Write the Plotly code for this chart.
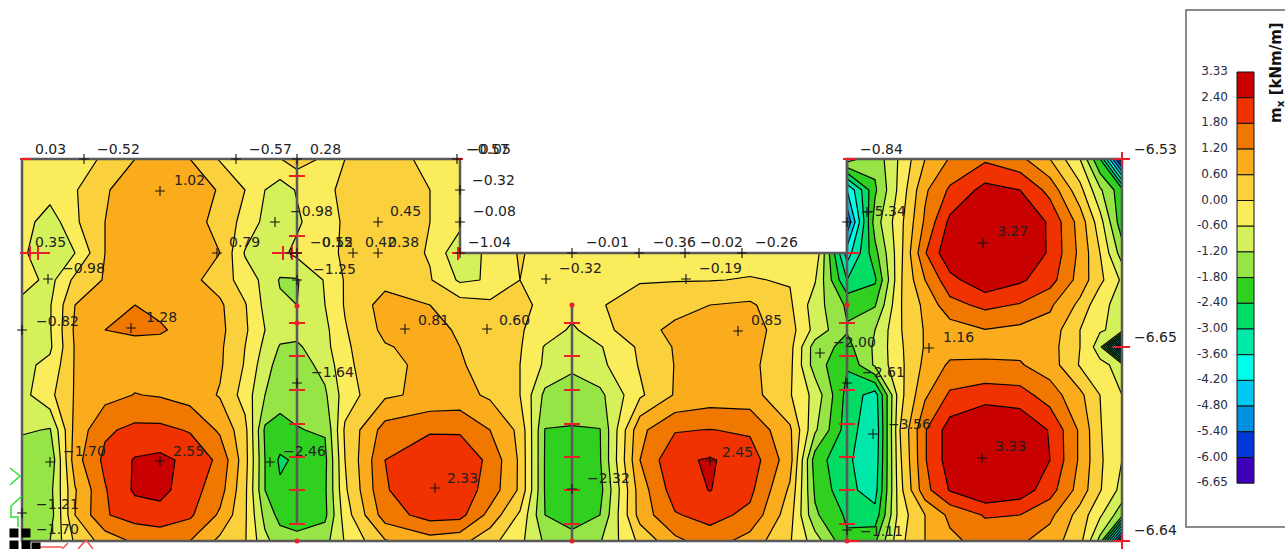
import plotly.graph_objects as go

N = None
# Plate node positions
x_nodes = [22,50,75,105,135,160,190,220,245,265,280,297,325,345,385,430,460,490,520,545,572,600,640,675,710,750,790,815,847,875,900,925,950,985,1020,1050,1080,1100,1122]
y_nodes = [159,190,222,253,280,305,330,347,365,395,430,460,490,515,541]

# Moment values m_x, one list per plate row
row_159 = [-.2,-.2,-.15,.05,.6,.95,.6,-.05,-.3,-.2,-.02,.28,-.1,0,.25,-.15,-.4, N,N,N,N,N,N,N,N,N,N,N, -.9,-1.6,-.5,.6,1.25,1.7,1.35,.6,-.6,-2.4,-6.53]
row_190 = [-.3,-.3,-.05,.55,.85,1.0,.9,.55,0,-.6,-.9,-.55,-.1,.1,.35,0,-.3, N,N,N,N,N,N,N,N,N,N,N, -4.2,-1.9,-.4,1.1,1.9,2.6,2.4,1.6,.2,-1.1,-2.2]
row_222 = [-.3,-.95,-.1,.6,.9,1.0,.85,.4,-.2,-.75,-1.0,-.7,-.15,.05,.4,0,-.4, N,N,N,N,N,N,N,N,N,N,N, -5.3,-1.5,-.2,1.3,2.55,3.15,3.0,2.3,.95,-.35,-2.2]
row_253 = [-.5,-1.0,-.6,.6,.95,1.05,1.0,.6,-.65,-.9,-.75,-.45,-.1,.05,.35,-.05,-1.1,-.4,.05,-.2,-.25,-.3,-.3,-.25,-.2,-.2,-.15,-.1,-3.9,-2.0,-.2,1.75,2.9,3.27,3.05,2.3,1.05,0,-1.5]
row_280 = [-.3,-.8,.15,.65,1.0,1.05,.75,.35,-.3,-.75,-1.25,-1.25,-.55,.05,.4,.05,-.7,-.55,0,-.1,-.15,-.15,-.05,-.03,-.02,.03,-.04,-.55,-3.0,-2.5,-.1,1.2,2.2,2.85,2.5,2.05,.95,.15,-.7]
row_305 = [-.8,-.65,.6,.9,1.2,1.1,1.0,.7,.05,-.75,-1.1,-1.2,-.6,.05,.85,.6,.3,.15,.1,-.1,-.35,-.05,.3,.45,.6,.7,.1,-.9,-1.9,-1.85,-.05,.75,1.6,1.95,1.75,1.3,.45,-.45,-.8]
row_330 = [-.8,-.65,.7,1.2,1.28,1.25,1.05,.75,.1,-.6,-.95,-1.0,-.75,-.05,.75,.85,.5,.3,.05,-.25,-.7,-.25,.45,.7,.8,.85,.25,-.8,-1.75,-1.2,-.05,.65,.9,1.18,1.05,.95,0,-.55,-.75]
row_347 = [-.8,-.7,.65,.95,1.05,1.05,1.0,.7,0,-.75,-1.25,-1.3,-.8,-.1,.55,.8,.6,.35,.05,-.65,-.95,-.65,.1,.65,.75,.8,.2,-1.5,-2.0,-1.1,-.1,.65,.95,1.1,1.05,.85,0,-.9,-6.65]
row_365 = [-.75,-.45,.65,.85,.95,1.0,.95,.68,-.05,-.95,-1.45,-1.5,-1.0,-.15,.5,.7,.65,.4,0,-.7,-1.1,-.75,.05,.62,.72,.75,.15,-1.5,-2.35,-1.1,-.15,.75,1.3,1.25,1.25,.9,-.05,-.45,-.8]
row_395 = [-.8,-.15,.65,1.0,1.22,1.15,.95,.55,-.25,-1.2,-1.6,-1.65,-1.3,-.3,.5,.75,.8,.5,0,-1.35,-1.45,-1.35,-.1,.65,.85,.85,.05,-.8,-2.6,-3.3,-.2,1.1,1.9,2.15,2.05,1.5,.75,0,-.6]
row_430 = [-1.1,-1.25,.8,1.7,1.95,1.95,1.75,1.1,.2,-1.9,-1.98,-1.82,-1.75,.1,1.45,1.72,1.72,1.2,.45,-1.82,-1.85,-1.82,1.05,1.75,1.82,1.7,.7,-1.1,-2.7,-3.5,0,1.75,2.7,3.05,2.95,2.35,1.1,.05,-.6]
row_460 = [-1.7,-1.7,.95,1.95,2.45,2.55,2.25,1.65,.25,-1.8,-2.5,-2.3,-1.95,0,1.8,2.3,2.25,1.65,.5,-1.85,-2.3,-1.85,1.2,2.3,2.45,2.15,.85,-2.1,-2.9,-3.4,-.1,1.75,2.7,3.2,3.1,2.4,1.1,.1,-.6]
row_490 = [-1.6,-1.4,.55,1.75,2.5,2.6,2.05,1.45,.15,-1.8,-2.3,-2.3,-1.9,-.1,1.75,2.25,2.15,1.55,.5,-1.85,-2.3,-2.0,.9,2.1,2.42,1.95,.5,-1.9,-2.85,-3.25,-.2,1.6,2.45,3.0,2.75,2.05,.95,.05,-.8]
row_515 = [-1.35,-1.5,.6,1.75,2.05,2.15,1.9,1.1,.1,-1.4,-2.0,-2.05,-1.95,-.3,1.5,2.05,2.0,1.0,-.1,-1.8,-2.05,-1.8,.85,1.75,2.0,1.65,.25,-1.7,-2.5,-2.8,-.3,.6,1.35,1.85,1.8,1.35,.35,-.5,-1.6]
row_541 = [-1.7,-1.2,.1,.85,1.3,1.4,1.2,.45,.05,-1.05,-1.5,-1.65,-1.4,-.55,.55,.95,.8,.2,-.45,-1.3,-1.6,-1.25,.15,1.05,1.5,.95,.05,-.9,-2.3,-1.9,-.15,.6,1.05,1.45,1.3,.9,.2,-1.4,-6.64]
z_rows = [row_159,row_190,row_222,row_253,row_280,row_305,row_330,row_347,row_365,row_395,row_430,row_460,row_490,row_515,row_541]

# Legend
legend_labels = ["3.33","2.40","1.80","1.20","0.60","0.00","-0.60","-1.20","-1.80","-2.40","-3.00","-3.60","-4.20","-4.80","-5.40","-6.00","-6.65"]
band_colors = ["#C80000","#F03200","#F07800","#FAAC1C","#FAD03C","#FAEC5A","#D4F05A","#96E445","#30D020","#00DC64","#00E8AA","#00FFE8","#00C8F0","#0090E0","#0038D8","#3C00B8"]

# Value labels on the plate
lab_text = ["0.03","−0.52","−0.57","0.28","−0.57","−0.05","−0.32","−0.08","−1.04","−0.01","−0.36","−0.02","−0.26","−0.84","−6.53","−6.65","−6.64",
            "1.02","0.35","−0.98","−0.82","1.28","0.79","−0.98","−0.15","0.52","0.42","0.38","0.45","−1.25","0.81","0.60","−0.32","−0.19","0.85","−5.34","3.27","1.16",
            "−2.00","−2.61","−3.56","3.33","2.45","−2.32","2.33","−2.46","2.55","−1.70","−1.64","−1.21","−1.70","−1.11"]
lab_x = [35,97,249,310,466,468,472,473,468,586,653,700,755,860,1134,1134,1134,
         174,35,62,36,146,229,290,310,322,365,388,390,313,418,499,559,699,751,863,997,943,
         833,862,888,995,722,587,447,283,173,63,311,36,36,860]
lab_y = [150,150,150,150,150,150,181,212,243,243,243,243,243,150,150,338,531,
         181,243,269,322,318,243,212,243,243,243,243,212,270,321,321,269,269,321,212,232,338,
         343,373,425,447,453,479,479,452,452,452,373,505,530,532]

# Black + marks at the extreme points
cross_x = [84,236,297,457,460,460,160,48,22,217,275,131,378,297,353,378,405,487,546,686,738,460,572,639,685,742,847,983,929,820,847,873,982,710,572,435,160,50,270,22,297,847,867,297,291]
cross_y = [159,159,159,159,190,222,191,279,330,253,222,328,222,280,253,253,329,329,279,279,331,253,253,253,253,253,222,243,348,353,383,434,458,461,489,488,461,462,462,513,383,530,212,253,253]

# Support lines and red support ticks
wall_x = [297,572,847]
wall_top = [159,305,159]
wall_bottom = [525,541,541]
tick_x = [297,297,297,297,297,297,297,297,297, 572,572,572,572,572,572,572, 847,847,847,847,847,847,847]
tick_y = [176,236,323,356,390,424,457,490,524, 323,356,390,424,457,490,524, 323,356,390,424,457,490,524]
dot_x = [297,297,572,572,847,847,297]
dot_y = [323,541,305,541,305,541,306]
corner_x0 = [20,20,455,452,843,847,845,1113,1113,1113,272]
corner_x1 = [32,50,463,464,855,860,860,1130,1130,1130,302]
corner_y = [159,253,159,253,159,253,541,159,347,541,253]
outline_x = [22,460,460,847,847,1122,1122,22,22]
outline_y = [159,159,253,253,159,159,541,541,159]
notch_x = [460,847,847,460,460]
notch_y = [150,150,253,253,150]

fig = go.Figure()

scale = []
for i, c in enumerate(reversed(band_colors)):
    scale += [[i/16, c], [(i+1)/16, c]]

fig.add_trace(go.Contour(
    x=x_nodes, y=y_nodes, z=z_rows, connectgaps=False, autocontour=False,
    zauto=False, zmin=-6.6, zmax=3.0, colorscale=scale, showscale=False,
    contours=dict(start=-6.0, end=2.4, size=0.6, coloring="fill", showlines=True),
    line=dict(color="#000000", width=1.2, smoothing=0), hoverinfo="skip"))

# White notch of the plate
fig.add_trace(go.Scatter(x=notch_x, y=notch_y, mode="lines", fill="toself", fillcolor="white",
                         line=dict(width=0, color="white"), hoverinfo="skip"))

# Structure lines
wx, wy = [], []
for x, a, b in zip(wall_x, wall_top, wall_bottom):
    wx += [x, x, None]; wy += [a, b, None]
fig.add_trace(go.Scatter(x=wx, y=wy, mode="lines", line=dict(color="#5a5a5a", width=2.5)))
fig.add_trace(go.Scatter(x=outline_x, y=outline_y, mode="lines", line=dict(color="#5a5a5a", width=2.5)))

# Red ticks
rx, ry = [], []
for x, y in zip(tick_x, tick_y):
    rx += [x-8, x+8, None]; ry += [y, y, None]
for a, b, y in zip(corner_x0, corner_x1, corner_y):
    rx += [a, b, None]; ry += [y, y, None]
fig.add_trace(go.Scatter(x=rx, y=ry, mode="lines", line=dict(color="#E8202A", width=2)))
fig.add_trace(go.Scatter(x=[1122,1122,None,1122,1122,None,30,30,None,38,38,None,283,283,None,292,292,None,458,458],
                         y=[152,166,None,534,549,None,246,260,None,246,260,None,246,260,None,246,260,None,247,260],
                         mode="lines", line=dict(color="#E8202A", width=2)))
fig.add_trace(go.Scatter(x=dot_x, y=dot_y, mode="markers", marker=dict(color="#E8202A", size=5)))

# Crosses
fig.add_trace(go.Scatter(x=cross_x, y=cross_y, mode="markers",
    marker=dict(symbol="cross-thin", size=7, line=dict(color="#111111", width=1.1))))

# Labels
fig.add_trace(go.Scatter(x=lab_x, y=lab_y, mode="text", text=lab_text, textposition="middle right",
    textfont=dict(family="DejaVu Sans", size=14, color="#222222")))

# Bottom-left UI remnants
fig.add_trace(go.Scatter(x=[10,20,10,None,22,11,11,18,18], y=[468,476,485,None,496,506,517,517,527],
    mode="lines", line=dict(color="#30E030", width=1.5)))
fig.add_trace(go.Scatter(x=[40,62,None,62,68,None,78,86,93], y=[547,547,None,549,543,None,549,540,549],
    mode="lines", line=dict(color="#F05050", width=1.5)))
fig.add_trace(go.Scatter(x=[14,26,14,26,36], y=[533,533,545,545,547], mode="markers",
    marker=dict(symbol="square", size=9, color="black")))

# Legend box
fig.add_trace(go.Scatter(x=[1285,1186,1186,1285], y=[10,10,527,527], mode="lines", line=dict(color="#666666", width=1.5)))
top, step = 72, 25.7
fig.add_trace(go.Bar(x=[1245.5]*16, y=[step]*16, base=[top+i*step for i in range(16)], width=17,
    marker=dict(color=band_colors, line=dict(color="#111111", width=1))))
fig.add_trace(go.Scatter(x=[1228]*17, y=[top+i*step for i in range(17)], mode="text", text=legend_labels,
    textposition="middle left", textfont=dict(family="DejaVu Sans", size=12, color="#2a2a40")))
fig.add_annotation(x=1276, y=73, text="<b>m<sub>x</sub> [kNm/m]</b>", textangle=-90, showarrow=False,
    font=dict(family="DejaVu Sans", size=15, color="#111111"))

fig.update_layout(width=1285, height=549, margin=dict(l=0, r=0, t=0, b=0), showlegend=False,
    paper_bgcolor="white", plot_bgcolor="white", barmode="overlay",
    xaxis=dict(range=[0,1285], visible=False, fixedrange=True),
    yaxis=dict(range=[549,0], visible=False, fixedrange=True))

fig.write_html("out.html", post_script="document.body.style.margin='0';document.body.style.overflow='hidden';",
               config={"displayModeBar": False})
